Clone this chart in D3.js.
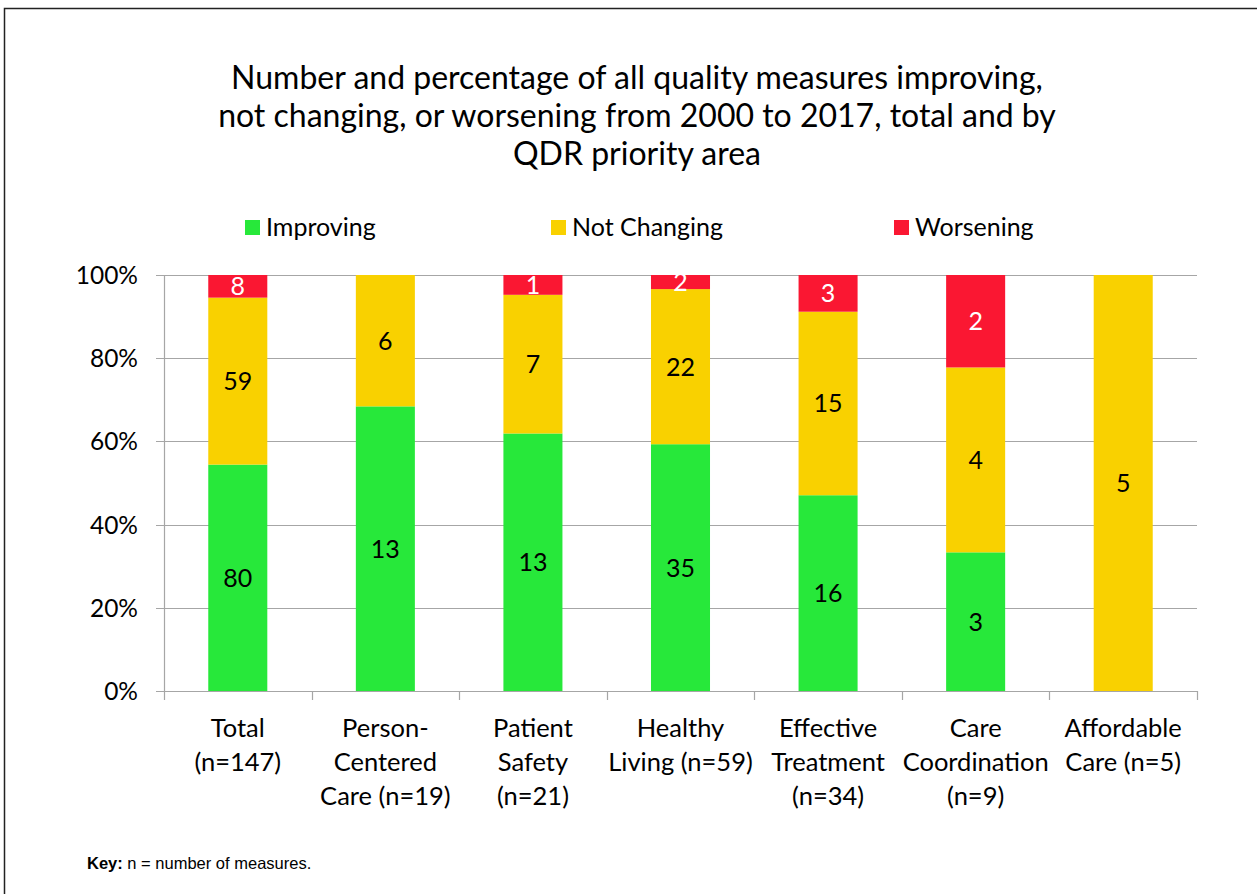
<!DOCTYPE html>
<html>
<head>
<meta charset="utf-8">
<script src="https://cdn.jsdelivr.net/npm/d3@7"></script>
<style>
  body { margin: 0; background: #fff; }
  svg { display: block; }
</style>
</head>
<body>
<svg id="main-svg"></svg>
<script>
let categories = [
  ['Total', '(n=147)'],
  ['Person-', 'Centered', 'Care (n=19)'],
  ['Patient', 'Safety', '(n=21)'],
  ['Healthy', 'Living (n=59)'],
  ['Effective', 'Treatment', '(n=34)'],
  ['Care', 'Coordination', '(n=9)'],
  ['Affordable', 'Care (n=5)']
];
let improving = [80, 13, 13, 35, 16, 3, 0];
let notChanging = [59, 6, 7, 22, 15, 4, 5];
let worsening = [8, 0, 1, 2, 3, 2, 0];
let seriesNames = ['Improving', 'Not Changing', 'Worsening'];
let yTicks = [0, 0.2, 0.4, 0.6, 0.8, 1];
let titleLines = [
  'Number and percentage of all quality measures improving,',
  'not changing, or worsening from 2000 to 2017, total and by',
  'QDR priority area'
];

let width = 1257;
let height = 894;
let colors = ['#27e83a', '#f9d100', '#fa1732'];
let labelColors = ['#000', '#000', '#fff'];
let font = 'Lato, "Open Sans", sans-serif';

let svg = d3.select('#main-svg')
  .attr('width', width)
  .attr('height', height);

// outer frame
svg.append('path')
  .attr('d', `M4.5,${height} V8.5 H${width}`)
  .style('fill', 'none')
  .style('stroke', '#222')
  .style('stroke-width', 1.5);

let plot = { left: 164, right: 1197, top: 275, bottom: 691 };

let x = d3.scaleBand()
  .domain(d3.range(categories.length))
  .range([plot.left, plot.right])
  .paddingInner(0.6)
  .paddingOuter(0.3);

let y = d3.scaleLinear().domain([0, 1]).range([plot.bottom, plot.top]);

// title
svg.append('text')
  .attr('x', 637)
  .attr('y', 89)
  .attr('text-anchor', 'middle')
  .style('font-family', font)
  .style('font-size', '32px')
  .style('fill', '#000')
  .selectAll('tspan')
  .data(titleLines)
  .join('tspan')
    .attr('x', 637)
    .attr('dy', (d, i) => i === 0 ? 0 : 38)
    .text(d => d);

// legend
let legendX = [245, 551, 894];
let legend = svg.append('g').selectAll('g')
  .data(seriesNames)
  .join('g')
    .attr('transform', (d, i) => `translate(${legendX[i]} 220)`);
legend.append('rect')
  .attr('width', 15).attr('height', 15)
  .style('fill', (d, i) => colors[i]);
legend.append('text')
  .attr('x', 21).attr('y', 16)
  .style('font-family', font)
  .style('font-size', '25px')
  .text(d => d);

// gridlines
svg.append('g').selectAll('line')
  .data(yTicks)
  .join('line')
    .attr('x1', plot.left - 8)
    .attr('x2', plot.right)
    .attr('y1', d => Math.round(y(d)) + 0.5)
    .attr('y2', d => Math.round(y(d)) + 0.5)
    .style('stroke', '#a6a6a6')
    .style('stroke-width', 1.2);

// y axis line
svg.append('line')
  .attr('x1', plot.left + 0.5).attr('x2', plot.left + 0.5)
  .attr('y1', plot.top).attr('y2', plot.bottom)
  .style('stroke', '#a6a6a6')
  .style('stroke-width', 1.2);

svg.append('g').selectAll('text')
  .data(yTicks)
  .join('text')
    .attr('x', plot.left - 26)
    .attr('y', d => y(d) + 9)
    .attr('text-anchor', 'end')
    .style('font-family', font)
    .style('font-size', '24.5px')
    .text(d3.format('.0%'));

// x tick marks at category boundaries
let bounds = d3.range(categories.length + 1).map(i => plot.left + i * (plot.right - plot.left) / categories.length);
svg.append('g').selectAll('line')
  .data(bounds)
  .join('line')
    .attr('x1', d => Math.round(d) + 0.5)
    .attr('x2', d => Math.round(d) + 0.5)
    .attr('y1', plot.bottom)
    .attr('y2', plot.bottom + 9)
    .style('stroke', '#a6a6a6')
    .style('stroke-width', 1.2);

// stacked bars
let rows = categories.map((c, i) => ({
  i: i,
  total: improving[i] + notChanging[i] + worsening[i],
  vals: [improving[i], notChanging[i], worsening[i]]
}));

let segs = [];
rows.forEach(r => {
  let acc = 0;
  r.vals.forEach((v, k) => {
    if (v > 0) {
      segs.push({ i: r.i, k: k, v: v, y0: acc / r.total, y1: (acc + v) / r.total });
    }
    acc += v;
  });
});

let bars = svg.append('g');
bars.selectAll('rect')
  .data(segs)
  .join('rect')
    .attr('x', d => x(d.i))
    .attr('width', x.bandwidth())
    .attr('y', d => y(d.y1))
    .attr('height', d => y(d.y0) - y(d.y1))
    .style('fill', d => colors[d.k]);

bars.selectAll('text')
  .data(segs)
  .join('text')
    .attr('x', d => x(d.i) + x.bandwidth() / 2)
    .attr('y', d => (y(d.y0) + y(d.y1)) / 2 + 9)
    .attr('text-anchor', 'middle')
    .style('font-family', font)
    .style('font-size', '25px')
    .style('fill', d => labelColors[d.k])
    .text(d => d.v);

// category labels
svg.append('g').selectAll('text')
  .data(categories)
  .join('text')
    .attr('text-anchor', 'middle')
    .style('font-family', font)
    .style('font-size', '25.5px')
    .attr('transform', (d, i) => `translate(${x(i) + x.bandwidth() / 2} 737)`)
    .selectAll('tspan')
    .data(d => d)
    .join('tspan')
      .attr('x', 0)
      .attr('y', (d, j) => j * 34)
      .text(d => d);

// key
let key = svg.append('text')
  .attr('x', 87)
  .attr('y', 869)
  .style('font-family', 'Arial, "Liberation Sans", sans-serif')
  .style('font-size', '16.5px');
key.append('tspan').style('font-weight', 'bold').text('Key:');
key.append('tspan').text(' n = number of measures.');
</script>
</body>
</html>
